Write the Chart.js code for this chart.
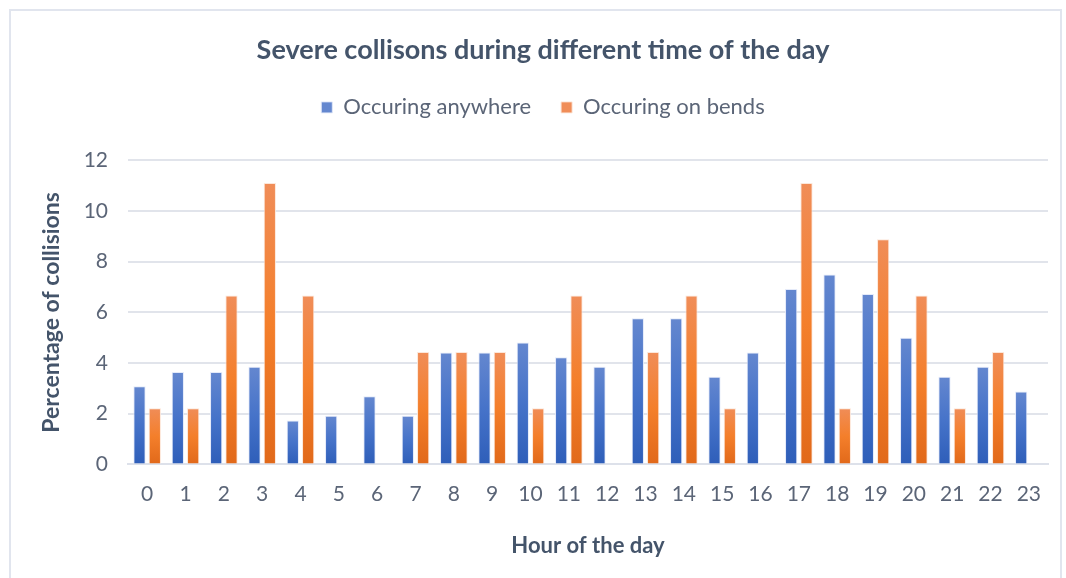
<!DOCTYPE html>
<html>
<head>
<meta charset="utf-8">
<script src="https://cdn.jsdelivr.net/npm/chart.js@4.4.1/dist/chart.umd.min.js"></script>
<style>
  html, body { margin: 0; padding: 0; background: #fff; }
  #wrap { position: relative; width: 1066px; height: 578px; }
  #frame { position: absolute; left: 9px; top: 9px; width: 1053px; height: 580px;
           border: 2px solid #e1e5ee; box-sizing: border-box; pointer-events: none; }
  canvas { position: absolute; left: 0; top: 0; }
</style>
</head>
<body>
<div id="wrap">
  <canvas id="chart" width="1066" height="578"></canvas>
  <div id="frame"></div>
</div>
<script>
// hours of the day
const hours = ['0','1','2','3','4','5','6','7','8','9','10','11','12','13','14','15','16','17','18','19','20','21','22','23'];

// percentage of severe collisions
const anywhere = [3.08, 3.65, 3.65, 3.85, 1.73, 1.92, 2.69, 1.92, 4.42, 4.42, 4.81, 4.23, 3.85, 5.77, 5.77, 3.46, 4.42, 6.92, 7.50, 6.73, 5.00, 3.46, 3.85, 2.88];
const onBends  = [2.22, 2.22, 6.67, 11.11, 6.67, 0, 0, 4.44, 4.44, 4.44, 2.22, 6.67, 0, 4.44, 6.67, 2.22, 0, 11.11, 2.22, 8.89, 6.67, 2.22, 4.44, 0];

const yTicks = [0, 2, 4, 6, 8, 10, 12];

const FONT = 'Lato, "Open Sans", sans-serif';
const TEXT = '#44546a';
const TICK = '#5b6577';

// Excel-ish vertical gradient, one per bar
function barFill(top, mid, bottom, solid) {
  return function (ctx) {
    if (ctx.type !== 'data') return solid;
    const chart = ctx.chart;
    const ys = chart.scales.y;
    if (!chart.chartArea || !ys) return solid;
    const y0 = ys.getPixelForValue(0);
    const y1 = ys.getPixelForValue(ctx.raw);
    if (!isFinite(y0) || !isFinite(y1) || y0 === y1) return solid;
    const g = chart.ctx.createLinearGradient(0, y1, 0, y0);
    g.addColorStop(0, top);
    g.addColorStop(0.5, mid);
    g.addColorStop(1, bottom);
    return g;
  };
}

// extra room under the legend
const legendGap = {
  id: 'legendGap',
  beforeInit(chart) {
    const fit = chart.legend.fit;
    chart.legend.fit = function () {
      fit.bind(chart.legend)();
      this.height += 32;
    };
  }
};

new Chart(document.getElementById('chart'), {
  type: 'bar',
  data: {
    labels: hours,
    datasets: [
      {
        label: 'Occuring anywhere',
        data: anywhere,
        backgroundColor: barFill('#6487cf', '#4673c9', '#2e5eb9', '#4472c4'),
        borderColor: 'rgba(225,232,248,0.9)',
        borderWidth: 1,
        categoryPercentage: 0.8,
        barPercentage: 0.8
      },
      {
        label: 'Occuring on bends',
        data: onBends,
        backgroundColor: barFill('#f08d58', '#f47f2b', '#e1691a', '#ed7d31'),
        borderColor: 'rgba(252,228,214,0.9)',
        borderWidth: 1,
        categoryPercentage: 0.8,
        barPercentage: 0.8
      }
    ]
  },
  options: {
    responsive: false,
    animation: false,
    layout: { padding: { left: 38, right: 18, top: 0, bottom: 19 } },
    plugins: {
      title: {
        display: true,
        text: 'Severe collisons during different time of the day',
        color: TEXT,
        font: { family: FONT, size: 27, weight: 'bold' },
        padding: { top: 34, bottom: 0 }
      },
      legend: {
        position: 'top',
        labels: {
          color: TICK,
          font: { family: FONT, size: 22 },
          boxWidth: 11,
          boxHeight: 11,
          padding: 30
        }
      },
      tooltip: { enabled: false }
    },
    scales: {
      x: {
        grid: { display: false, drawTicks: false },
        border: { display: true, color: '#dde1ea', width: 2 },
        ticks: { color: TICK, font: { family: FONT, size: 21 }, padding: 17 },
        title: {
          display: true,
          text: 'Hour of the day',
          color: TEXT,
          font: { family: FONT, size: 22, weight: 'bold' },
          padding: { top: 9, bottom: 0 }
        }
      },
      y: {
        min: 0,
        max: 12,
        afterBuildTicks(axis) { axis.ticks = yTicks.map(v => ({ value: v })); },
        afterFit(axis) { axis.width = 90; },
        grid: { color: '#e1e4eb', lineWidth: 2, drawTicks: false },
        border: { display: false },
        ticks: { color: TICK, font: { family: FONT, size: 21 }, padding: 20 },
        title: {
          display: true,
          text: 'Percentage of collisions',
          color: TEXT,
          font: { family: FONT, size: 23, weight: 'bold' },
          padding: { top: 0, bottom: 0 }
        }
      }
    }
  },
  plugins: [legendGap]
});
</script>
</body>
</html>
